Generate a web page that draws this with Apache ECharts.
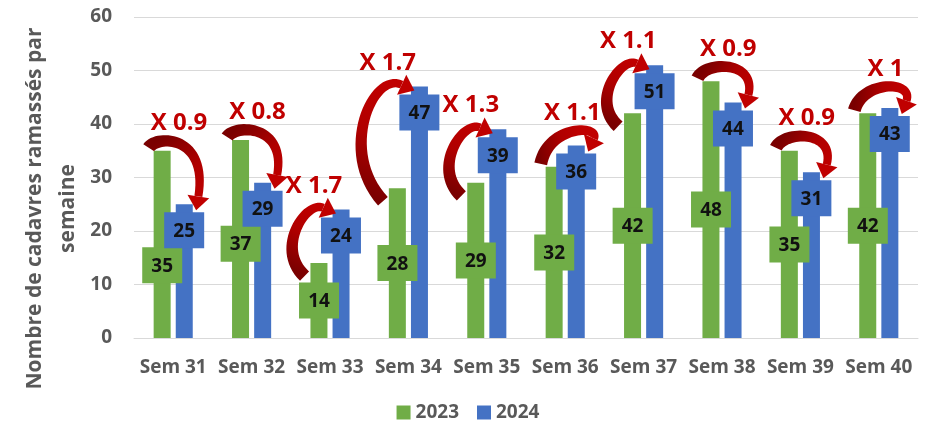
<!DOCTYPE html>
<html>
<head>
<meta charset="utf-8">
<script src="https://cdn.jsdelivr.net/npm/echarts@6/dist/echarts.min.js"></script>
<style>
  html, body { margin: 0; padding: 0; background: #fff; }
  #main { width: 936px; height: 429px; }
</style>
</head>
<body>
<div id="main"></div>
<script>
var weeks = ['Sem 31', 'Sem 32', 'Sem 33', 'Sem 34', 'Sem 35', 'Sem 36', 'Sem 37', 'Sem 38', 'Sem 39', 'Sem 40'];
var values2023 = [35, 37, 14, 28, 29, 32, 42, 48, 35, 42];
var values2024 = [25, 29, 24, 47, 39, 36, 51, 44, 31, 43];
var ratioLabels = ['X 0.9', 'X 0.8', 'X 1.7', 'X 1.7', 'X 1.3', 'X 1.1', 'X 1.1', 'X 0.9', 'X 0.9', 'X 1'];

var FONT = '"Open Sans", "DejaVu Sans", sans-serif';
var GREY = '#595959';
var GREEN = '#70ad47';
var BLUE = '#4472c4';

var pairData = weeks.map(function (w, i) {
    return [i, values2023[i], values2024[i]];
});

// square value boxes: 2023 in the middle of its bar, 2024 just under the top
function renderBoxes(params, api) {
    var i = api.value(0);
    var off = api.size([1, 0])[0] * 0.14;
    var v1 = api.value(1), v2 = api.value(2);
    var mid = api.coord([i, v1 / 2]);
    var top = api.coord([i, v2]);
    var w = 40, h = 36;
    var blueY = top[1] + 8 + h / 2;
    var greenY = mid[1];
    // keep the green box below the blue one when they would collide
    if (Math.abs(greenY - blueY) < h) greenY = blueY + h - 1;
    function box(cx, cy, color, txt) {
        return [
            { type: 'rect', shape: { x: cx - w / 2, y: cy - h / 2, width: w, height: h }, style: { fill: color } },
            {
                type: 'text', x: cx, y: cy + 1,
                style: { text: txt, fill: '#111', font: 'bold 19px ' + FONT, align: 'center', verticalAlign: 'middle' }
            }
        ];
    }
    return {
        type: 'group',
        children: box(mid[0] - off, greenY, GREEN, String(v1))
            .concat(box(top[0] + off, blueY, BLUE, String(v2)))
    };
}

function bez(p0, p1, p2, p3, t) {
    var s = 1 - t;
    return [
        s * s * s * p0[0] + 3 * s * s * t * p1[0] + 3 * s * t * t * p2[0] + t * t * t * p3[0],
        s * s * s * p0[1] + 3 * s * s * t * p1[1] + 3 * s * t * t * p2[1] + t * t * t * p3[1]
    ];
}

// curved red arrow from the 2023 bar top to the 2024 bar top, with the ratio above
function renderArrow(params, api) {
    var i = api.value(0);
    var v1 = api.value(1), v2 = api.value(2);
    var off = api.size([1, 0])[0] * 0.14;
    var g = api.coord([i, v1]);
    var b = api.coord([i, v2]);
    var gx = g[0] - off, gy = g[1];
    var bx = b[0] + off, by = b[1];
    var gLeft = gx - 8.5;
    var p0, p1, p2, p3;

    if (v2 - v1 >= 5) {
        // big rise: loop out to the left and come in over the blue bar
        p0 = [gLeft - 6, gy + 13];
        p3 = [bx - 5, by + 4];
        var dh = p0[1] - p3[1];
        p1 = [p0[0] - 0.32 * dh - 10, p0[1] - 0.45 * dh];
        p2 = [p3[0] - 0.25 * dh - 14, p3[1] - 0.12 * dh - 6];
    } else {
        // drop or small change: hump over to the right of the blue bar
        var close = Math.max(0, 1 - Math.abs(v2 - v1) / 6);
        var top = Math.min(gy, by) - 16 - 14 * close;
        p0 = [gLeft - 5, gy - 3];
        p3 = [bx + 12, by + 6];
        p1 = [p0[0] + 8, top];
        p2 = [p3[0] + 12, top];
    }

    var dx = p3[0] - p2[0], dy = p3[1] - p2[1];
    var len = Math.sqrt(dx * dx + dy * dy);
    var ux = dx / len, uy = dy / len;
    var L = 14, W = 11;
    var end = [p3[0] - ux * L, p3[1] - uy * L];
    var head = [
        [p3[0], p3[1]],
        [end[0] - uy * W, end[1] + ux * W],
        [end[0] + uy * W, end[1] - ux * W]
    ];

    // body: wide at the tail, narrower towards the head
    var N = 32, left = [], right = [], minX = Infinity, maxX = -Infinity, minY = Infinity;
    for (var k = 0; k <= N; k++) {
        var t = k / N;
        var pt = bez(p0, p1, p2, end, t);
        var a = bez(p0, p1, p2, end, Math.max(0, t - 0.01));
        var c = bez(p0, p1, p2, end, Math.min(1, t + 0.01));
        var tx = c[0] - a[0], ty = c[1] - a[1];
        var tl = Math.sqrt(tx * tx + ty * ty) || 1;
        var nx = -ty / tl, ny = tx / tl;
        var hw = 6.5 - 2.5 * t;
        left.push([pt[0] + nx * hw, pt[1] + ny * hw]);
        right.push([pt[0] - nx * hw, pt[1] - ny * hw]);
        minX = Math.min(minX, pt[0]);
        maxX = Math.max(maxX, pt[0]);
        minY = Math.min(minY, pt[1] - hw);
    }
    head.forEach(function (p) {
        minX = Math.min(minX, p[0]);
        maxX = Math.max(maxX, p[0]);
        minY = Math.min(minY, p[1]);
    });

    var grad = new echarts.graphic.LinearGradient(p0[0], p0[1], p3[0], p3[1], [
        { offset: 0, color: '#7a0000' },
        { offset: 0.55, color: '#b00000' },
        { offset: 1, color: '#c00000' }
    ], true);

    return {
        type: 'group',
        children: [
            {
                type: 'polygon',
                shape: { points: left.concat(right.reverse()) },
                style: { fill: grad }
            },
            {
                type: 'polygon',
                shape: { points: head },
                style: { fill: '#c00000' }
            },
            {
                type: 'text',
                x: (minX + maxX) / 2,
                y: minY - 12,
                style: {
                    text: ratioLabels[i],
                    fill: '#c00000',
                    font: 'bold 24px ' + FONT,
                    align: 'center',
                    verticalAlign: 'middle'
                }
            }
        ]
    };
}

var chart = echarts.init(document.getElementById('main'));

var option = {
    animation: false,
    grid: { left: 134, right: 18, top: 17, bottom: 91, outerBoundsMode: 'none', containLabel: false },
    legend: {
        data: ['2023', '2024'],
        bottom: 2,
        left: 'center',
        icon: 'rect',
        itemWidth: 14,
        itemHeight: 14,
        itemGap: 18,
        textStyle: { color: GREY, fontWeight: 'bold', fontSize: 19, fontFamily: FONT }
    },
    xAxis: {
        type: 'category',
        data: weeks,
        axisTick: { show: false },
        axisLine: { lineStyle: { color: '#d9d9d9' } },
        axisLabel: { interval: 0, color: GREY, fontWeight: 'bold', fontSize: 19, fontFamily: FONT, margin: 20 }
    },
    yAxis: {
        type: 'value',
        min: 0,
        max: 60,
        interval: 10,
        name: 'Nombre de cadavres ramassés par\nsemaine',
        nameLocation: 'middle',
        nameRotate: 90,
        nameGap: 49,
        nameMoveOverlap: false,
        nameTextStyle: {
            color: GREY, fontWeight: 'bold', fontSize: 21, fontFamily: FONT,
            lineHeight: 33, padding: [0, 62, 0, 0]
        },
        splitLine: { lineStyle: { color: '#d9d9d9' } },
        axisLabel: { color: GREY, fontWeight: 'bold', fontSize: 19, fontFamily: FONT, margin: 22 }
    },
    series: [
        {
            name: '2023',
            type: 'bar',
            data: values2023,
            barWidth: 17,
            barGap: '30%',
            itemStyle: { color: GREEN }
        },
        {
            name: '2024',
            type: 'bar',
            data: values2024,
            barWidth: 17,
            itemStyle: { color: BLUE }
        },
        {
            type: 'custom',
            data: pairData,
            renderItem: renderBoxes,
            clip: false,
            z: 4,
            silent: true
        },
        {
            type: 'custom',
            data: pairData,
            renderItem: renderArrow,
            clip: false,
            z: 5,
            silent: true
        }
    ]
};

chart.setOption(option);
</script>
</body>
</html>
